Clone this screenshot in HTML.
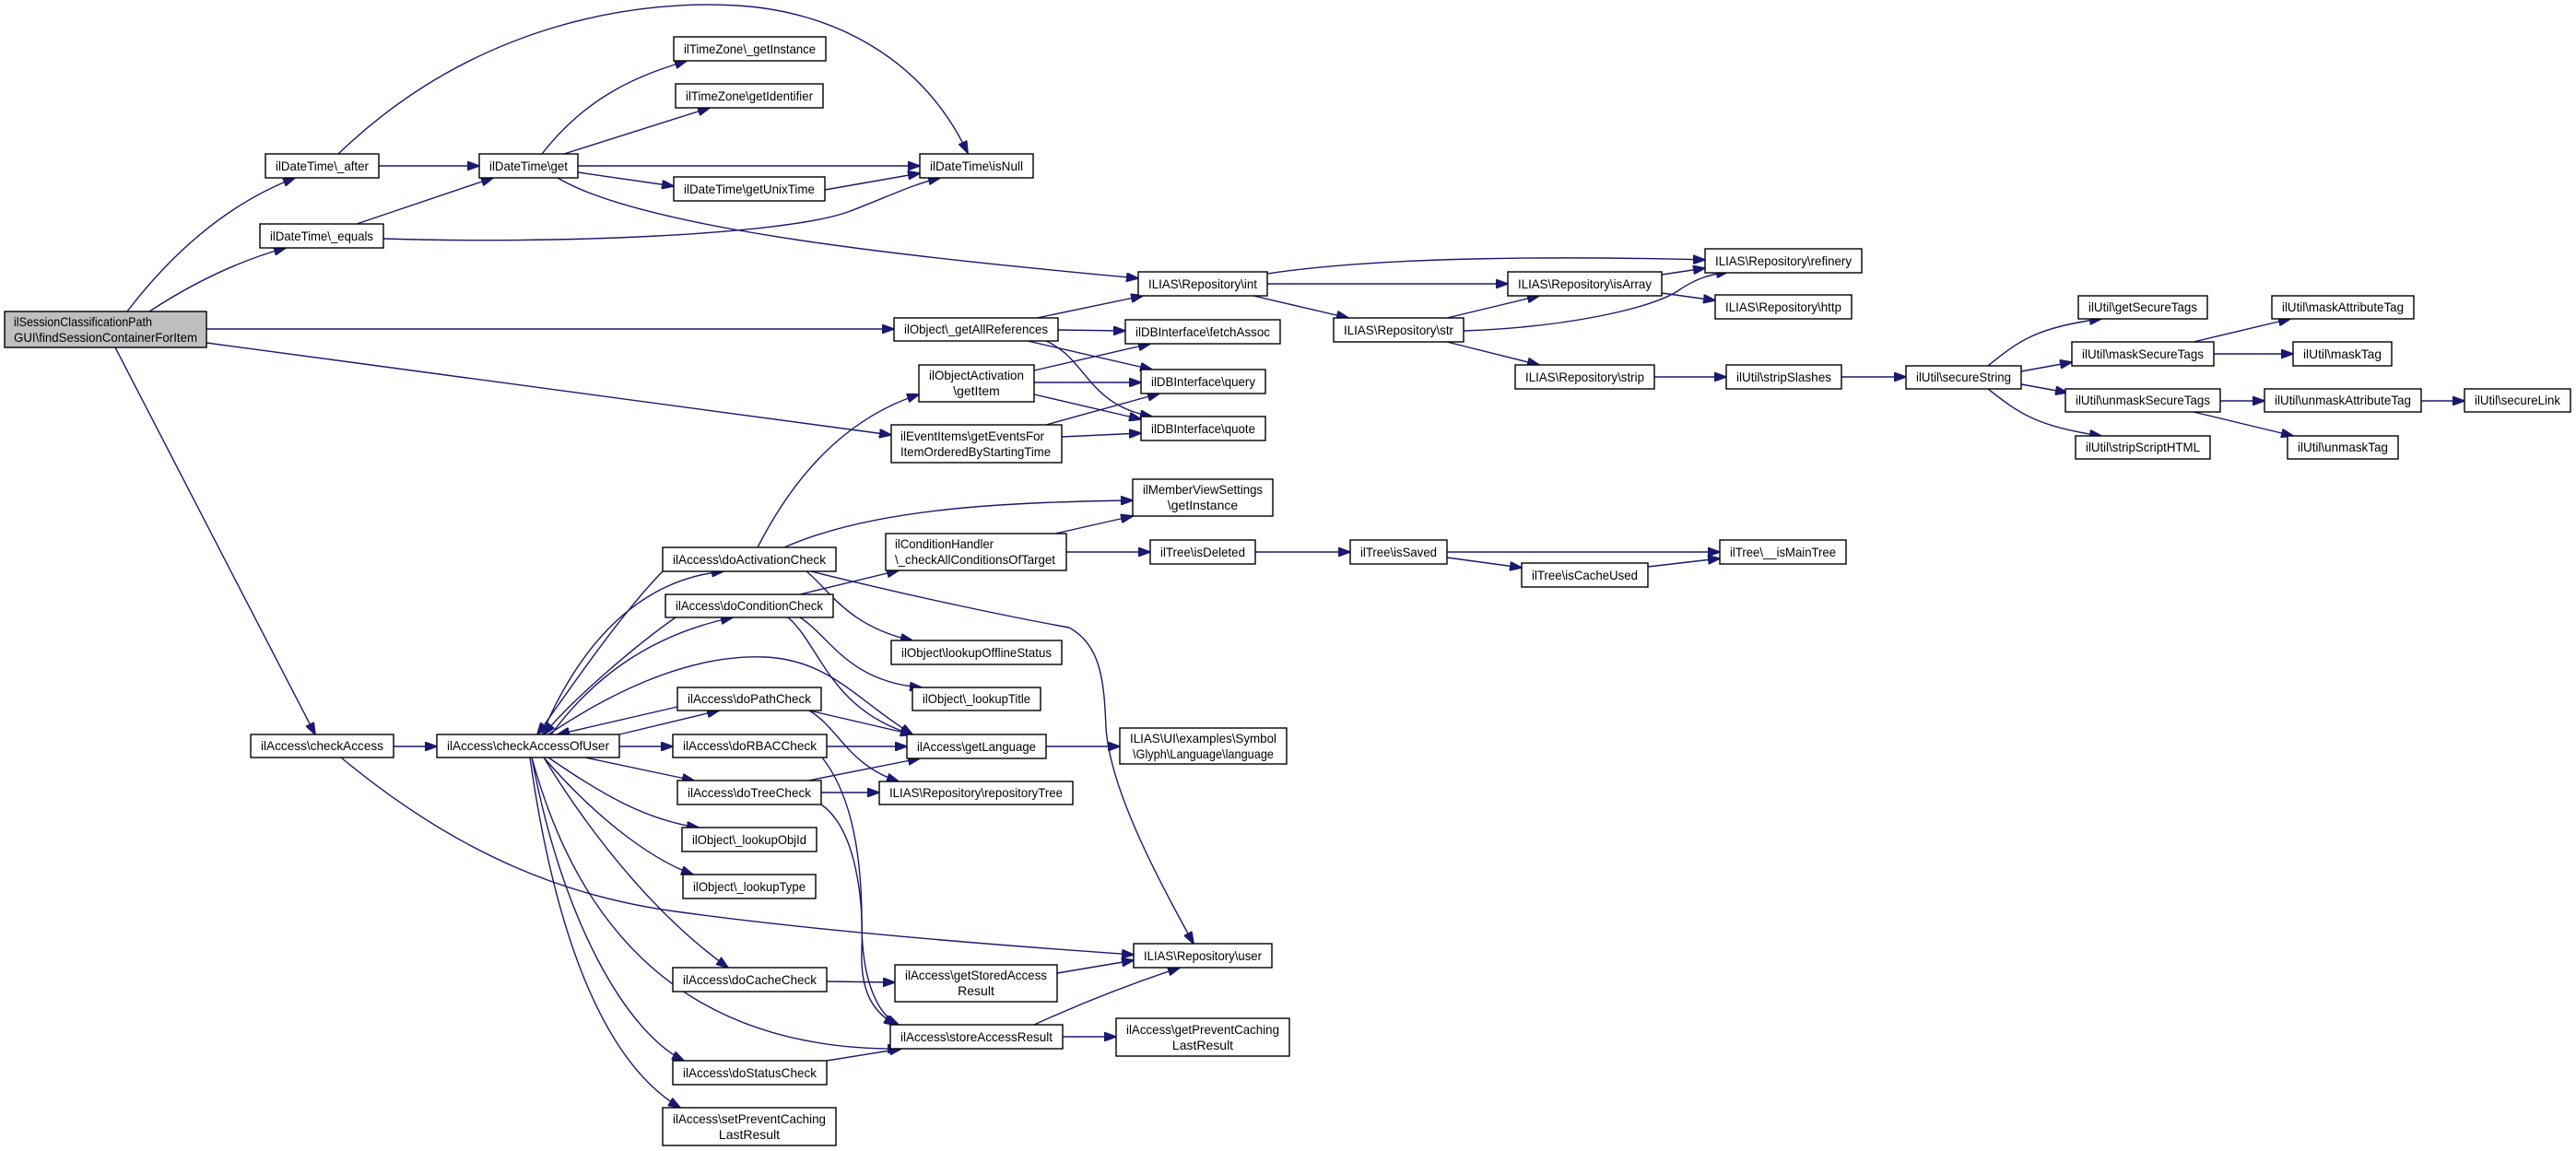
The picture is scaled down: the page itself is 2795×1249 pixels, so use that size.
<!DOCTYPE html>
<html><head><meta charset="utf-8"><style>
html,body{margin:0;padding:0;background:#fff;}
svg{display:block;}
text{font-family:"Liberation Sans",Arial,sans-serif;font-size:14px;fill:#000;}
.n{fill:#fff;stroke:#000;stroke-width:1.4;}
.e{fill:none;stroke:#191970;stroke-width:1.4;}
</style></head><body>
<svg width="2795" height="1249" viewBox="0 0 2795 1249" xmlns="http://www.w3.org/2000/svg">
<defs><marker id="a" markerWidth="14" markerHeight="10" refX="13" refY="5" orient="auto" markerUnits="userSpaceOnUse"><path d="M0,0 L14,5 L0,10 z" fill="#191970" stroke="#191970"/></marker></defs>
<g marker-end="url(#a)">
<path class="e" d="M138,338 C190,270 250,220 320,193"/>
<path class="e" d="M162,338 C220,300 270,280 310,269"/>
<path class="e" d="M224,357 L970,357"/>
<path class="e" d="M224,372 L967,472"/>
<path class="e" d="M125,377 L342,797"/>
<path class="e" d="M411,180 L520,180"/>
<path class="e" d="M367,167 C520,20 700,0 800,6 C900,12 1000,60 1050,166"/>
<path class="e" d="M387,243 L535,193"/>
<path class="e" d="M416,259 C600,265 850,255 920,230 C960,215 990,200 1020,193"/>
<path class="e" d="M588,167 C640,100 700,80 745,66"/>
<path class="e" d="M612,167 L770,117"/>
<path class="e" d="M627,180 L998,180"/>
<path class="e" d="M627,187 L731,202"/>
<path class="e" d="M605,193 C700,250 1000,280 1235,302"/>
<path class="e" d="M895,206 L998,188"/>
<path class="e" d="M1125,345 L1240,321"/>
<path class="e" d="M1148,358 L1221,359"/>
<path class="e" d="M1115,370 L1250,401"/>
<path class="e" d="M1135,370 C1180,390 1180,440 1250,452"/>
<path class="e" d="M1122,402 L1248,373"/>
<path class="e" d="M1122,415 L1238,415"/>
<path class="e" d="M1122,428 L1238,455"/>
<path class="e" d="M1135,461 L1258,427"/>
<path class="e" d="M1152,474 L1238,470"/>
<path class="e" d="M1375,297 C1500,278 1700,278 1850,282"/>
<path class="e" d="M1375,308 L1636,308"/>
<path class="e" d="M1360,321 L1463,345"/>
<path class="e" d="M1803,298 L1850,291"/>
<path class="e" d="M1803,318 L1861,326"/>
<path class="e" d="M1570,345 L1670,321"/>
<path class="e" d="M1588,359 C1700,355 1790,335 1820,316 C1840,302 1855,298 1875,295"/>
<path class="e" d="M1570,371 L1670,396"/>
<path class="e" d="M1795,409 L1873,409"/>
<path class="e" d="M1998,409 L2068,409"/>
<path class="e" d="M2157,397 C2190,370 2210,355 2280,346"/>
<path class="e" d="M2193,403 L2248,393"/>
<path class="e" d="M2193,417 L2243,426"/>
<path class="e" d="M2157,422 C2190,448 2210,463 2280,473"/>
<path class="e" d="M2380,371 L2485,346"/>
<path class="e" d="M2402,384 L2488,384"/>
<path class="e" d="M2409,435 L2457,435"/>
<path class="e" d="M2380,447 L2488,473"/>
<path class="e" d="M2627,435 L2674,435"/>
<path class="e" d="M427,810 L474,810"/>
<path class="e" d="M370,822 C500,930 620,975 740,990 C900,1012 1100,1027 1230,1036"/>
<path class="e" d="M588,797 C620,720 680,630 785,620"/>
<path class="e" d="M719,620 C670,670 610,760 583,797"/>
<path class="e" d="M598,797 C640,740 700,690 795,670"/>
<path class="e" d="M733,670 C690,700 620,760 590,797"/>
<path class="e" d="M595,797 C680,740 760,710 830,713 C900,716 930,760 990,797"/>
<path class="e" d="M735,767 L605,797"/>
<path class="e" d="M672,797 L780,771"/>
<path class="e" d="M672,810 L730,810"/>
<path class="e" d="M635,822 L753,847"/>
<path class="e" d="M595,822 C650,860 700,890 758,898"/>
<path class="e" d="M590,822 C640,880 700,930 752,949"/>
<path class="e" d="M590,822 C650,920 720,1000 790,1050"/>
<path class="e" d="M577,822 C620,980 720,1140 976,1138"/>
<path class="e" d="M577,822 C610,1000 680,1120 742,1151"/>
<path class="e" d="M575,822 C600,1000 650,1150 738,1202"/>
<path class="e" d="M822,594 C870,500 930,450 997,428"/>
<path class="e" d="M851,594 C950,550 1100,545 1229,543"/>
<path class="e" d="M875,620 C900,640 920,680 990,695"/>
<path class="e" d="M880,620 C1000,650 1110,672 1160,681 C1195,700 1198,740 1200,790 C1205,860 1260,960 1295,1024"/>
<path class="e" d="M868,645 L975,619"/>
<path class="e" d="M868,670 C900,690 920,740 1000,746"/>
<path class="e" d="M855,670 C890,700 900,770 990,797"/>
<path class="e" d="M878,771 L990,797"/>
<path class="e" d="M878,771 C910,790 920,830 975,848"/>
<path class="e" d="M897,810 L984,810"/>
<path class="e" d="M892,822 C930,870 935,950 935,1000 C935,1060 950,1100 975,1112"/>
<path class="e" d="M877,847 L998,823"/>
<path class="e" d="M891,860 L954,860"/>
<path class="e" d="M891,873 C930,900 937,980 935,1030 C933,1080 950,1100 972,1112"/>
<path class="e" d="M897,1065 L971,1066"/>
<path class="e" d="M897,1151 L978,1138"/>
<path class="e" d="M1145,579 L1229,560"/>
<path class="e" d="M1157,599 L1248,599"/>
<path class="e" d="M1362,599 L1465,599"/>
<path class="e" d="M1570,599 L1866,599"/>
<path class="e" d="M1570,605 L1651,616"/>
<path class="e" d="M1788,615 L1866,606"/>
<path class="e" d="M1135,810 L1215,810"/>
<path class="e" d="M1147,1056 L1230,1042"/>
<path class="e" d="M1122,1112 C1170,1090 1220,1070 1280,1050"/>
<path class="e" d="M1153,1125 L1211,1125"/>
</g>
<g>
<rect x="5" y="338" width="219" height="39" fill="#bfbfbf" stroke="#000" stroke-width="1.4"/>
<text x="15" y="354" textLength="150" lengthAdjust="spacingAndGlyphs">ilSessionClassificationPath</text>
<text x="15" y="371" textLength="199" lengthAdjust="spacingAndGlyphs">GUI\findSessionContainerForItem</text>

<rect class="n" x="288" y="167" width="123" height="26"/><text x="349.5" y="185" text-anchor="middle" textLength="101" lengthAdjust="spacingAndGlyphs">ilDateTime\_after</text>
<rect class="n" x="282" y="243" width="134" height="26"/><text x="349" y="261" text-anchor="middle" textLength="112" lengthAdjust="spacingAndGlyphs">ilDateTime\_equals</text>
<rect class="n" x="520" y="167" width="107" height="26"/><text x="573.5" y="185" text-anchor="middle" textLength="85" lengthAdjust="spacingAndGlyphs">ilDateTime\get</text>
<rect class="n" x="731" y="40" width="165" height="26"/><text x="813.5" y="58" text-anchor="middle" textLength="143" lengthAdjust="spacingAndGlyphs">ilTimeZone\_getInstance</text>
<rect class="n" x="733" y="91" width="160" height="26"/><text x="813" y="109" text-anchor="middle" textLength="138" lengthAdjust="spacingAndGlyphs">ilTimeZone\getIdentifier</text>
<rect class="n" x="731" y="192" width="164" height="26"/><text x="813" y="210" text-anchor="middle" textLength="142" lengthAdjust="spacingAndGlyphs">ilDateTime\getUnixTime</text>
<rect class="n" x="998" y="167" width="123" height="26"/><text x="1059.5" y="185" text-anchor="middle" textLength="101" lengthAdjust="spacingAndGlyphs">ilDateTime\isNull</text>
<rect class="n" x="970" y="345" width="178" height="25"/><text x="1059" y="362" text-anchor="middle" textLength="156" lengthAdjust="spacingAndGlyphs">ilObject\_getAllReferences</text>
<rect class="n" x="1221" y="347" width="168" height="26"/><text x="1305" y="365" text-anchor="middle" textLength="146" lengthAdjust="spacingAndGlyphs">ilDBInterface\fetchAssoc</text>
<rect class="n" x="997" y="396" width="125" height="40"/><text x="1059.5" y="412" text-anchor="middle" textLength="103" lengthAdjust="spacingAndGlyphs">ilObjectActivation</text><text x="1059.5" y="429" text-anchor="middle">\getItem</text>
<rect class="n" x="1238" y="401" width="135" height="26"/><text x="1305.5" y="419" text-anchor="middle" textLength="113" lengthAdjust="spacingAndGlyphs">ilDBInterface\query</text>
<rect class="n" x="1238" y="452" width="135" height="26"/><text x="1305.5" y="470" text-anchor="middle" textLength="113" lengthAdjust="spacingAndGlyphs">ilDBInterface\quote</text>
<rect class="n" x="967" y="461" width="185" height="41"/><text x="977" y="478" textLength="156" lengthAdjust="spacingAndGlyphs">ilEventItems\getEventsFor</text><text x="977" y="495" textLength="163" lengthAdjust="spacingAndGlyphs">ItemOrderedByStartingTime</text>
<rect class="n" x="1235" y="295" width="140" height="26"/><text x="1305" y="313" text-anchor="middle" textLength="118" lengthAdjust="spacingAndGlyphs">ILIAS\Repository\int</text>
<rect class="n" x="1636" y="295" width="167" height="26"/><text x="1719.5" y="313" text-anchor="middle" textLength="145" lengthAdjust="spacingAndGlyphs">ILIAS\Repository\isArray</text>
<rect class="n" x="1850" y="270" width="170" height="26"/><text x="1935" y="288" text-anchor="middle" textLength="148" lengthAdjust="spacingAndGlyphs">ILIAS\Repository\refinery</text>
<rect class="n" x="1861" y="320" width="148" height="26"/><text x="1935" y="338" text-anchor="middle" textLength="126" lengthAdjust="spacingAndGlyphs">ILIAS\Repository\http</text>
<rect class="n" x="1447" y="345" width="141" height="26"/><text x="1517.5" y="363" text-anchor="middle" textLength="119" lengthAdjust="spacingAndGlyphs">ILIAS\Repository\str</text>
<rect class="n" x="1644" y="396" width="151" height="26"/><text x="1719.5" y="414" text-anchor="middle" textLength="129" lengthAdjust="spacingAndGlyphs">ILIAS\Repository\strip</text>
<rect class="n" x="1873" y="396" width="125" height="26"/><text x="1935.5" y="414" text-anchor="middle" textLength="103" lengthAdjust="spacingAndGlyphs">ilUtil\stripSlashes</text>
<rect class="n" x="2068" y="397" width="125" height="25"/><text x="2130.5" y="414" text-anchor="middle" textLength="103" lengthAdjust="spacingAndGlyphs">ilUtil\secureString</text>
<rect class="n" x="2255" y="321" width="140" height="25"/><text x="2325" y="338" text-anchor="middle" textLength="118" lengthAdjust="spacingAndGlyphs">ilUtil\getSecureTags</text>
<rect class="n" x="2248" y="371" width="154" height="26"/><text x="2325" y="389" text-anchor="middle" textLength="132" lengthAdjust="spacingAndGlyphs">ilUtil\maskSecureTags</text>
<rect class="n" x="2241" y="422" width="168" height="25"/><text x="2325" y="439" text-anchor="middle" textLength="146" lengthAdjust="spacingAndGlyphs">ilUtil\unmaskSecureTags</text>
<rect class="n" x="2252" y="473" width="146" height="25"/><text x="2325" y="490" text-anchor="middle" textLength="124" lengthAdjust="spacingAndGlyphs">ilUtil\stripScriptHTML</text>
<rect class="n" x="2465" y="321" width="154" height="25"/><text x="2542" y="338" text-anchor="middle" textLength="132" lengthAdjust="spacingAndGlyphs">ilUtil\maskAttributeTag</text>
<rect class="n" x="2488" y="371" width="107" height="26"/><text x="2541.5" y="389" text-anchor="middle" textLength="85" lengthAdjust="spacingAndGlyphs">ilUtil\maskTag</text>
<rect class="n" x="2457" y="422" width="170" height="25"/><text x="2542" y="439" text-anchor="middle" textLength="148" lengthAdjust="spacingAndGlyphs">ilUtil\unmaskAttributeTag</text>
<rect class="n" x="2674" y="422" width="115" height="25"/><text x="2731.5" y="439" text-anchor="middle" textLength="93" lengthAdjust="spacingAndGlyphs">ilUtil\secureLink</text>
<rect class="n" x="2482" y="473" width="120" height="25"/><text x="2542" y="490" text-anchor="middle" textLength="98" lengthAdjust="spacingAndGlyphs">ilUtil\unmaskTag</text>
<rect class="n" x="1229" y="520" width="152" height="40"/><text x="1305" y="536" text-anchor="middle" textLength="130" lengthAdjust="spacingAndGlyphs">ilMemberViewSettings</text><text x="1305" y="553" text-anchor="middle">\getInstance</text>
<rect class="n" x="961" y="579" width="196" height="40"/><text x="971" y="595" textLength="107" lengthAdjust="spacingAndGlyphs">ilConditionHandler</text><text x="971" y="612" textLength="174" lengthAdjust="spacingAndGlyphs">\_checkAllConditionsOfTarget</text>
<rect class="n" x="1248" y="586" width="114" height="26"/><text x="1305" y="604" text-anchor="middle" textLength="92" lengthAdjust="spacingAndGlyphs">ilTree\isDeleted</text>
<rect class="n" x="1465" y="586" width="105" height="26"/><text x="1517.5" y="604" text-anchor="middle" textLength="83" lengthAdjust="spacingAndGlyphs">ilTree\isSaved</text>
<rect class="n" x="1651" y="611" width="137" height="26"/><text x="1719.5" y="629" text-anchor="middle" textLength="115" lengthAdjust="spacingAndGlyphs">ilTree\isCacheUsed</text>
<rect class="n" x="1866" y="586" width="137" height="26"/><text x="1934.5" y="604" text-anchor="middle" textLength="115" lengthAdjust="spacingAndGlyphs">ilTree\__isMainTree</text>
<rect class="n" x="719" y="594" width="188" height="26"/><text x="813" y="612" text-anchor="middle" textLength="166" lengthAdjust="spacingAndGlyphs">ilAccess\doActivationCheck</text>
<rect class="n" x="722" y="645" width="182" height="25"/><text x="813" y="662" text-anchor="middle" textLength="160" lengthAdjust="spacingAndGlyphs">ilAccess\doConditionCheck</text>
<rect class="n" x="967" y="695" width="185" height="26"/><text x="1059.5" y="713" text-anchor="middle" textLength="163" lengthAdjust="spacingAndGlyphs">ilObject\lookupOfflineStatus</text>
<rect class="n" x="990" y="746" width="139" height="25"/><text x="1059.5" y="763" text-anchor="middle" textLength="117" lengthAdjust="spacingAndGlyphs">ilObject\_lookupTitle</text>
<rect class="n" x="735" y="746" width="156" height="25"/><text x="813" y="763" text-anchor="middle" textLength="134" lengthAdjust="spacingAndGlyphs">ilAccess\doPathCheck</text>
<rect class="n" x="272" y="797" width="155" height="25"/><text x="349.5" y="814" text-anchor="middle" textLength="133" lengthAdjust="spacingAndGlyphs">ilAccess\checkAccess</text>
<rect class="n" x="474" y="797" width="198" height="25"/><text x="573" y="814" text-anchor="middle" textLength="176" lengthAdjust="spacingAndGlyphs">ilAccess\checkAccessOfUser</text>
<rect class="n" x="730" y="797" width="167" height="25"/><text x="813.5" y="814" text-anchor="middle" textLength="145" lengthAdjust="spacingAndGlyphs">ilAccess\doRBACCheck</text>
<rect class="n" x="984" y="797" width="151" height="26"/><text x="1059.5" y="815" text-anchor="middle" textLength="129" lengthAdjust="spacingAndGlyphs">ilAccess\getLanguage</text>
<rect class="n" x="1215" y="790" width="181" height="39"/><text x="1305.5" y="806" text-anchor="middle" textLength="159" lengthAdjust="spacingAndGlyphs">ILIAS\UI\examples\Symbol</text><text x="1305.5" y="823" text-anchor="middle" textLength="153" lengthAdjust="spacingAndGlyphs">\Glyph\Language\language</text>
<rect class="n" x="735" y="847" width="156" height="26"/><text x="813" y="865" text-anchor="middle" textLength="134" lengthAdjust="spacingAndGlyphs">ilAccess\doTreeCheck</text>
<rect class="n" x="954" y="848" width="210" height="25"/><text x="1059" y="865" text-anchor="middle" textLength="188" lengthAdjust="spacingAndGlyphs">ILIAS\Repository\repositoryTree</text>
<rect class="n" x="740" y="898" width="146" height="26"/><text x="813" y="916" text-anchor="middle" textLength="124" lengthAdjust="spacingAndGlyphs">ilObject\_lookupObjId</text>
<rect class="n" x="741" y="949" width="144" height="26"/><text x="813" y="967" text-anchor="middle" textLength="122" lengthAdjust="spacingAndGlyphs">ilObject\_lookupType</text>
<rect class="n" x="730" y="1050" width="167" height="26"/><text x="813.5" y="1068" text-anchor="middle" textLength="145" lengthAdjust="spacingAndGlyphs">ilAccess\doCacheCheck</text>
<rect class="n" x="1230" y="1024" width="150" height="26"/><text x="1305" y="1042" text-anchor="middle" textLength="128" lengthAdjust="spacingAndGlyphs">ILIAS\Repository\user</text>
<rect class="n" x="971" y="1047" width="176" height="40"/><text x="1059" y="1063" text-anchor="middle" textLength="154" lengthAdjust="spacingAndGlyphs">ilAccess\getStoredAccess</text><text x="1059" y="1080" text-anchor="middle">Result</text>
<rect class="n" x="966" y="1112" width="187" height="26"/><text x="1059.5" y="1130" text-anchor="middle" textLength="165" lengthAdjust="spacingAndGlyphs">ilAccess\storeAccessResult</text>
<rect class="n" x="1211" y="1105" width="188" height="41"/><text x="1305" y="1122" text-anchor="middle" textLength="166" lengthAdjust="spacingAndGlyphs">ilAccess\getPreventCaching</text><text x="1305" y="1139" text-anchor="middle">LastResult</text>
<rect class="n" x="730" y="1151" width="167" height="26"/><text x="813.5" y="1169" text-anchor="middle" textLength="145" lengthAdjust="spacingAndGlyphs">ilAccess\doStatusCheck</text>
<rect class="n" x="719" y="1202" width="188" height="41"/><text x="813" y="1219" text-anchor="middle" textLength="166" lengthAdjust="spacingAndGlyphs">ilAccess\setPreventCaching</text><text x="813" y="1236" text-anchor="middle">LastResult</text>
</g>
</svg>
</body></html>
